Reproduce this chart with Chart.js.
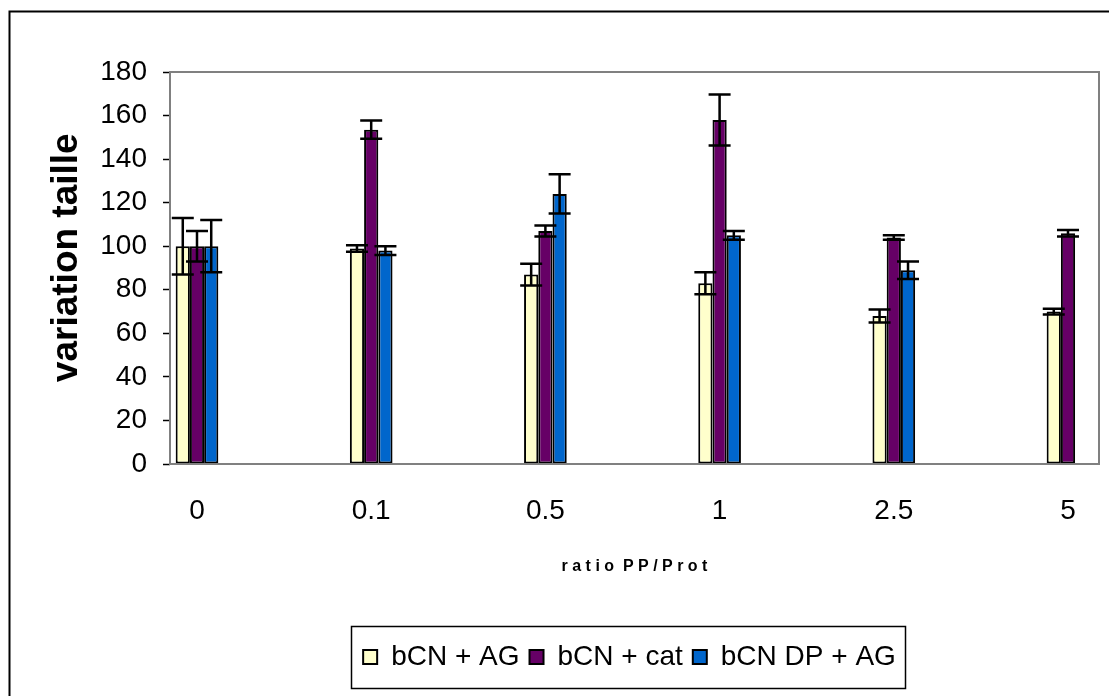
<!DOCTYPE html>
<html>
<head>
<meta charset="utf-8">
<script src="https://cdn.jsdelivr.net/npm/chart.js@4.4.1/dist/chart.umd.min.js"></script>
<style>
  html, body { margin: 0; padding: 0; background: #fff; }
  #wrap { width: 1109px; height: 696px; position: relative; }
</style>
</head>
<body>
<div id="wrap"><canvas id="chart" width="1109" height="696"></canvas></div>
<script>
// data
var ratioLabels = ['0', '0.1', '0.5', '1', '2.5', '5'];
var seriesNames = ['bCN + AG', 'bCN + cat', 'bCN DP + AG'];
var seriesColors = ['#FFFFCC', '#660066', '#0066CC'];
var agValues = [100, 99, 87, 83, 68, 70];
var agErrors = [13, 1.5, 5, 5, 3, 1.3];
var catValues = [100, 153.5, 107, 158, 104, 106];
var catErrors = [7, 4.2, 2.5, 11.7, 1, 1.5];
var dpValues = [100, 98, 124, 105, 89, null];
var dpErrors = [12, 2, 9, 2, 4, null];
var yTicks = [0, 20, 40, 60, 80, 100, 120, 140, 160, 180];

var allValues = [agValues, catValues, dpValues];
var allErrors = [agErrors, catErrors, dpErrors];

function toPoints(vals) {
  var pts = [];
  for (let i = 0; i < vals.length; i++) {
    pts.push({ x: i, y: vals[i] });
  }
  return pts;
}

var datasets = [];
for (let s = 0; s < seriesNames.length; s++) {
  datasets.push({
    label: seriesNames[s],
    data: toPoints(allValues[s]),
    backgroundColor: seriesColors[s],
    borderColor: '#000',
    borderWidth: 2,
    borderSkipped: false,
    categoryPercentage: 0.245,
    barPercentage: 1
  });
}

// error bars on top of the bars
var errorBars = {
  id: 'errorBars',
  afterDatasetsDraw(chart) {
    var ctx = chart.ctx;
    var ys = chart.scales.y;
    ctx.save();
    ctx.strokeStyle = '#000';
    ctx.lineWidth = 2.5;
    for (let s = 0; s < allValues.length; s++) {
      var meta = chart.getDatasetMeta(s);
      meta.data.forEach(function(bar, i) {
        var v = allValues[s][i];
        var e = allErrors[s][i];
        if (v === null || e === null) return;
        var top = ys.getPixelForValue(v + e);
        var bot = ys.getPixelForValue(v - e);
        ctx.beginPath();
        ctx.moveTo(bar.x, top);
        ctx.lineTo(bar.x, bot);
        ctx.moveTo(bar.x - 11, top);
        ctx.lineTo(bar.x + 11, top);
        ctx.moveTo(bar.x - 11, bot);
        ctx.lineTo(bar.x + 11, bot);
        ctx.stroke();
      });
    }
    ctx.restore();
  }
};

// plot frame, legend box and outer border
var frames = {
  id: 'frames',
  afterLayout(chart) {
    // legend sits under the plot area, not the whole canvas
    chart.legend.left += 160;
  },
  beforeDraw(chart) {
    var ctx = chart.ctx;
    ctx.save();
    ctx.fillStyle = '#fff';
    ctx.fillRect(0, 0, chart.width, chart.height);
    ctx.strokeStyle = '#000';
    ctx.lineWidth = 2;
    ctx.strokeRect(9.5, 11.5, 1200, 800);
    ctx.restore();
  },
  afterDraw(chart) {
    var ctx = chart.ctx;
    var a = chart.chartArea;
    ctx.save();
    ctx.strokeStyle = '#808080';
    ctx.lineWidth = 2;
    ctx.strokeRect(a.left, a.top, a.right - a.left, a.bottom - a.top);

    var lg = chart.legend;
    var pad = lg.options.labels.padding;
    var lw = lg.lineWidths[0];
    var startX = (lg.left + pad + lg.right - lw) / 2;
    var midY = lg.top + pad + lg.options.labels.font.size / 2;
    ctx.strokeStyle = '#000';
    ctx.lineWidth = 1.5;
    ctx.strokeRect(Math.round(startX - 12) + 0.5, Math.round(midY - 31) + 0.5, Math.round(lw - 1 + 12), 62);
    ctx.restore();
  }
};

new Chart(document.getElementById('chart').getContext('2d'), {
  type: 'bar',
  data: { datasets: datasets },
  plugins: [errorBars, frames],
  options: {
    responsive: false,
    animation: false,
    layout: { padding: { left: 0, top: 72, right: 10, bottom: 15 } },
    plugins: {
      tooltip: { enabled: false },
      legend: {
        position: 'bottom',
        labels: {
          color: '#000',
          boxWidth: 14,
          boxHeight: 14,
          padding: 10,
          font: { family: 'Liberation Sans', size: 28 },
          generateLabels: function(chart) {
            return seriesNames.map(function(n, i) {
              return { text: n, fillStyle: seriesColors[i], strokeStyle: '#000', lineWidth: 2, datasetIndex: i };
            });
          }
        }
      }
    },
    scales: {
      x: {
        type: 'linear',
        offset: false,
        min: -0.155,
        max: 5.178,
        afterFit: function(scale) { scale.height = 169; },
        grid: { display: true, drawOnChartArea: false, drawTicks: false },
        border: { display: false },
        ticks: {
          stepSize: 1,
          includeBounds: false,
          padding: 30,
          color: '#000',
          font: { family: 'Liberation Sans', size: 28 },
          callback: function(v) { return ratioLabels[v]; }
        },
        title: {
          display: true,
          text: 'r a t i o  P P / P r o t',
          color: '#000',
          font: { family: 'Liberation Sans', size: 16, weight: 'bold' },
          padding: { top: 0, bottom: 57 }
        }
      },
      y: {
        min: 0,
        max: 180,
        afterFit: function(scale) { scale.width = 170; },
        afterBuildTicks: function(scale) {
          scale.ticks = yTicks.map(function(v) { return { value: v }; });
        },
        grid: { drawOnChartArea: false, drawTicks: true, tickLength: 7, tickColor: '#000', tickWidth: 1.5 },
        border: { display: false },
        ticks: {
          padding: 16,
          color: '#000',
          font: { family: 'Liberation Sans', size: 28 }
        },
        title: {
          display: true,
          text: '  variation taille',
          color: '#000',
          font: { family: 'Liberation Sans', size: 37, weight: 'bold' },
          padding: { top: 45, bottom: 0 }
        }
      }
    }
  }
});
</script>
</body>
</html>
